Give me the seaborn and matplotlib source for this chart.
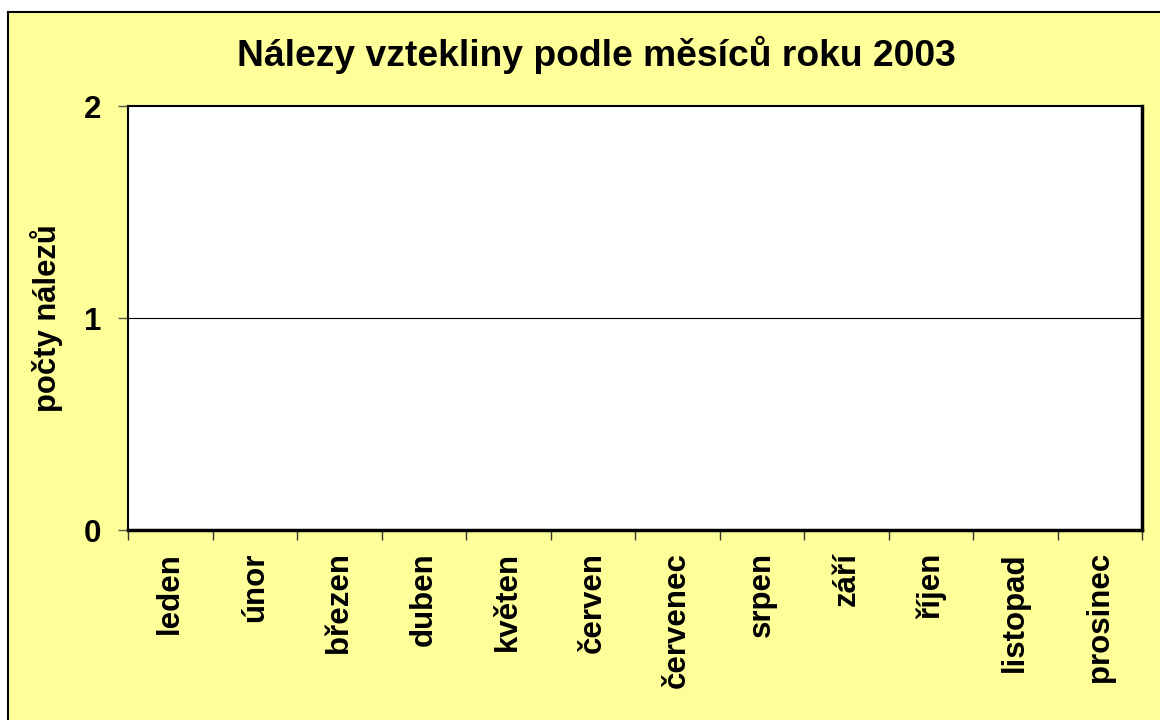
import numpy as np
import pandas as pd
import matplotlib
matplotlib.use("Agg")
import matplotlib.pyplot as plt
from matplotlib.patches import Rectangle
import seaborn as sns

# data: no findings in any month of 2003
months = ['leden', 'únor', 'březen', 'duben', 'květen', 'červen',
          'červenec', 'srpen', 'září', 'říjen', 'listopad', 'prosinec']
counts = [0, 0, 0, 0, 0, 0, 0, 0, 0, 0, 0, 0]
y_ticks = [0, 1, 2]

title = "Nálezy vztekliny podle měsíců roku 2003"
y_label = "počty nálezů"

sns.set_style("white")
plt.rcParams['font.family'] = ['Liberation Sans', 'DejaVu Sans']
plt.rcParams['text.color'] = 'black'
plt.rcParams['axes.labelcolor'] = 'black'
plt.rcParams['xtick.color'] = 'black'
plt.rcParams['ytick.color'] = 'black'

df = pd.DataFrame({'month': months, 'count': counts})

fig = plt.figure(figsize=(11.6, 7.2), dpi=100, facecolor='white')
# yellow chart area with black border on left/top
bg = Rectangle((8 / 1160, -0.01), 1.02, 1 - 12 / 720 + 0.01, transform=fig.transFigure,
               facecolor='#FFFF99', edgecolor='black', linewidth=1.5, zorder=-10)
fig.patches.append(bg)

ax = fig.add_axes([128 / 1160, 1 - 530 / 720, (1142 - 128) / 1160, (530 - 106) / 720])
ax.set_zorder(1)
ax.set_facecolor('white')

sns.barplot(data=df, x='month', y='count', color='#9999FF', ax=ax, width=0.6)

ax.set_xlim(-0.5, len(months) - 0.5)
ax.set_ylim(0, 2)
ax.set_yticks(y_ticks)
ax.set_yticklabels([str(t) for t in y_ticks], fontsize=22.5, fontweight='bold')
ax.axhline(1, color='black', linewidth=0.8, zorder=0.5)

ax.set_xticks(range(len(months)))
ax.set_xticklabels(months, rotation=90, fontsize=22.5, fontweight='bold', va='top')
ax.tick_params(axis='x', which='major', length=0, pad=16)
ax.set_xticks(np.arange(-0.5, len(months), 1), minor=True)
ax.tick_params(axis='x', which='minor', length=7, width=1, color='#333333', direction='out', bottom=True)
ax.tick_params(axis='y', length=7, width=1, color='#555555', direction='out', left=True, pad=12)

for side in ['left', 'top', 'right', 'bottom']:
    ax.spines[side].set_visible(True)
    ax.spines[side].set_color('black')
    ax.spines[side].set_linewidth(1.5)
ax.spines['right'].set_linewidth(2.5)
ax.spines['bottom'].set_linewidth(2.5)

ax.set_xlabel("")
ax.set_ylabel(y_label, fontsize=22.3, fontweight='bold')
ax.yaxis.set_label_coords((63 - 128) / 1014, 0.5)
fig.text(596 / 1160, 1 - 55 / 720, title, ha='center', va='center',
         fontsize=26.8, fontweight='bold')

fig.savefig("out.png", dpi=100, facecolor=fig.get_facecolor())
